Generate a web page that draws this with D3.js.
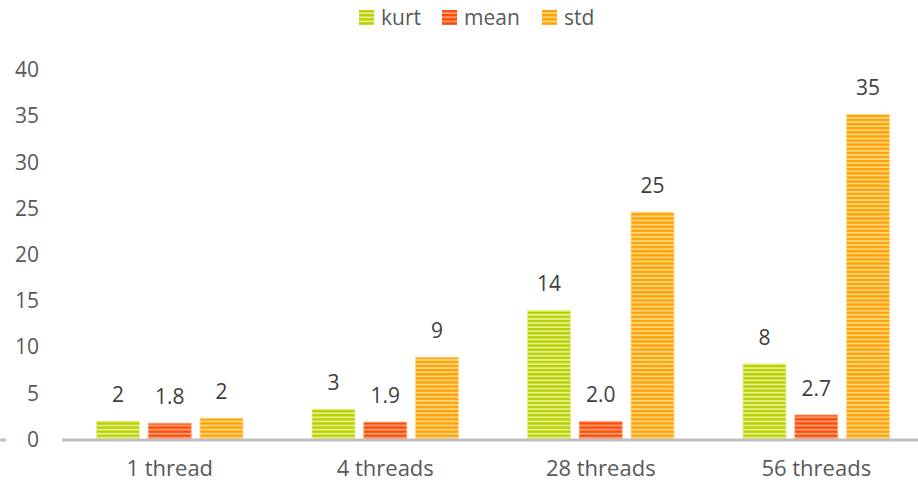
<!DOCTYPE html>
<html>
<head>
<meta charset="utf-8">
<script src="https://cdn.jsdelivr.net/npm/d3@7"></script>
<style>
  html, body { margin: 0; padding: 0; background: #fff; }
  svg { display: block; font-family: "Open Sans", "Noto Sans", sans-serif; }
</style>
</head>
<body>
<svg id="chart" width="918" height="483"></svg>
<script>
// Run categories and measured statistics
const categories = ["1 thread", "4 threads", "28 threads", "56 threads"];
const seriesNames = ["kurt", "mean", "std"];
const kurt = [2.0, 3.3, 14.0, 8.2];
const mean = [1.76, 1.88, 1.96, 2.66];
const std  = [2.3, 8.9, 24.6, 35.2];
const yTicks = [0, 5, 10, 15, 20, 25, 30, 35, 40];

const seriesValues = { kurt, mean, std };
const labelFormat = { kurt: d3.format(".0f"), mean: d3.format(".1f"), std: d3.format(".0f") };
const colors = {
  kurt: { dark: "#b8cf00", light: "#e6f08f" },
  mean: { dark: "#ff4b05", light: "#ffa27a" },
  std:  { dark: "#ffa200", light: "#ffd685" }
};

const svg = d3.select("#chart");
const W = 918;

// Horizontal stripe fills
const defs = svg.append("defs");
seriesNames.forEach(s => {
  const p = defs.append("pattern")
    .attr("id", "stripe-" + s)
    .attr("patternUnits", "userSpaceOnUse")
    .attr("width", 8).attr("height", 4.1);
  p.append("rect").attr("width", 8).attr("height", 4.1).attr("fill", colors[s].light);
  p.append("rect").attr("y", 0).attr("width", 8).attr("height", 2.3).attr("fill", colors[s].dark);
});

const y = d3.scaleLinear().domain([0, 40]).range([439.5, 70]);
const x0 = d3.scaleBand().domain(categories).range([62, 924]).padding(0);
const x1 = d3.scaleBand().domain(seriesNames)
  .range([34.5, x0.bandwidth() - 34.5]).paddingInner(0.17).paddingOuter(0);

// Y axis labels (no gridlines)
const yAxis = d3.axisLeft(y).tickValues(yTicks).tickSize(0).tickPadding(0);
const yg = svg.append("g").attr("transform", "translate(39,0)").call(yAxis);
yg.select(".domain").remove();
yg.selectAll("text")
  .attr("fill", "#595959")
  .style("font-size", "21px")
  .style("font-family", "'Open Sans', 'Noto Sans', sans-serif");

// Bars
const groups = svg.append("g").selectAll("g")
  .data(categories)
  .join("g")
  .attr("transform", d => `translate(${x0(d)},0)`);

const rows = (c, i) => seriesNames.map(s => ({ s, v: seriesValues[s][i] }));

groups.selectAll("rect")
  .data(rows)
  .join("rect")
  .attr("x", d => x1(d.s))
  .attr("width", x1.bandwidth())
  .attr("y", d => y(d.v))
  .attr("height", d => y(0) - y(d.v))
  .attr("fill", d => `url(#stripe-${d.s})`)
  .attr("stroke", d => colors[d.s].light)
  .attr("stroke-opacity", 0.7)
  .attr("stroke-width", 1);

// Value labels
groups.selectAll("text.val")
  .data(rows)
  .join("text")
  .attr("class", "val")
  .attr("x", d => x1(d.s) + x1.bandwidth() / 2)
  .attr("y", d => y(d.v) - 19)
  .attr("text-anchor", "middle")
  .attr("fill", "#404040")
  .style("font-size", "21px")
  .text(d => labelFormat[d.s](d.v));

// Category axis line
const axisY = y(0) + 0.5;
svg.append("line").attr("x1", 0).attr("x2", 6).attr("y1", axisY).attr("y2", axisY)
  .attr("stroke", "#bfbfbf").attr("stroke-width", 3);
svg.append("line").attr("x1", 62).attr("x2", W).attr("y1", axisY).attr("y2", axisY)
  .attr("stroke", "#bfbfbf").attr("stroke-width", 3);

// Category labels
const xAxis = d3.axisBottom(x0).tickSize(0).tickPadding(0);
const xg = svg.append("g").attr("transform", "translate(0,460)").call(xAxis);
xg.select(".domain").remove();
xg.selectAll("text")
  .attr("fill", "#595959")
  .style("font-size", "22px")
  .style("font-family", "'Open Sans', 'Noto Sans', sans-serif");

// Legend
const legendX = [359, 442, 542];
const legend = svg.append("g").selectAll("g")
  .data(seriesNames)
  .join("g")
  .attr("transform", (d, i) => `translate(${legendX[i]},10)`);
legend.append("rect")
  .attr("width", 15).attr("height", 15)
  .attr("fill", d => `url(#stripe-${d})`);
legend.append("text")
  .attr("x", 22).attr("y", 15)
  .attr("fill", "#595959")
  .style("font-size", "21px")
  .text(d => d);
</script>
</body>
</html>
